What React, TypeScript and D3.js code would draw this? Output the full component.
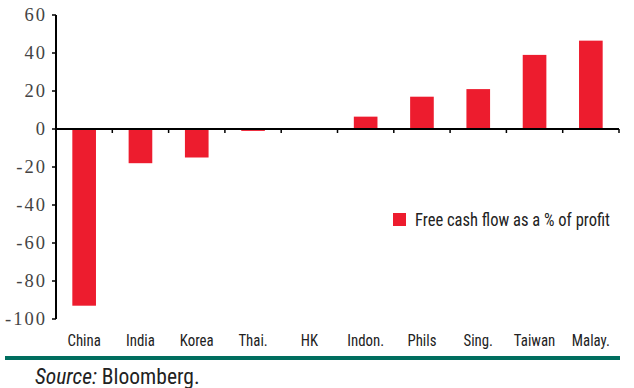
import * as d3 from "d3";

const categories = ["China", "India", "Korea", "Thai.", "HK", "Indon.", "Phils", "Sing.", "Taiwan", "Malay."];
const values = [-93, -18, -15, -1, 0, 6.5, 17, 21, 39, 46.5];
const yTicks = [60, 40, 20, 0, -20, -40, -60, -80, -100];
const legendLabel = "Free cash flow as a % of profit";

const W = 634;
const H = 388;
const BAR = "#ed1c2e";
const SANS = "Roboto Condensed";
const SERIF = "Liberation Serif";

export default function App() {
  const x = d3.scaleBand<string>().domain(categories).range([56, 619]).paddingInner(0.58).paddingOuter(0.29);
  const y = d3.scaleLinear().domain([-100, 60]).range([319, 15]);
  const step = x.step();
  const x0 = 56;

  return (
    <svg width={W} height={H} style={{ position: "absolute", left: 0, top: 0, background: "#fff" }}>
      {/* bars */}
      {categories.map((c, i) => (
        <rect
          key={c}
          x={x(c)}
          width={x.bandwidth()}
          y={y(Math.max(0, values[i]))}
          height={Math.abs(y(values[i]) - y(0))}
          fill={BAR}
        />
      ))}

      {/* y axis */}
      <line x1={x0} x2={x0} y1={y(60)} y2={y(-100)} stroke="#000" strokeWidth={2} />
      {yTicks.map((t) => (
        <g key={t}>
          <line x1={x0 - 4} x2={x0} y1={y(t)} y2={y(t)} stroke="#000" strokeWidth={1.5} />
          <text
            x={47}
            y={y(t) + 6}
            textAnchor="end"
            fontFamily={SERIF}
            fontSize={18.5}
            letterSpacing={2}
            fill="#444"
          >
            {t}
          </text>
        </g>
      ))}

      {/* zero line with category ticks */}
      <line x1={x0} x2={619} y1={y(0)} y2={y(0)} stroke="#000" strokeWidth={2} />
      {categories.map((c, i) => (
        <line key={c} x1={x0 + (i + 1) * step} x2={x0 + (i + 1) * step} y1={y(0)} y2={y(0) + 4} stroke="#000" strokeWidth={1.5} />
      ))}

      {/* category labels */}
      {categories.map((c) => (
        <text
          key={c}
          transform={`translate(${(x(c) ?? 0) + x.bandwidth() / 2},346) scale(0.9,1)`}
          textAnchor="middle"
          fontFamily={SANS}
          fontSize={16.5}
          fill="#222"
        >
          {c}
        </text>
      ))}

      {/* legend */}
      <rect x={393} y={213} width={13} height={13} fill={BAR} />
      <text transform="translate(415,226) scale(0.92,1)" fontFamily={SANS} fontSize={18} fill="#222">
        {legendLabel}
      </text>

      {/* footer rule */}
      <rect x={5} y={356} width={615} height={4} fill="#006e5f" />
      <text x={35} y={384} fontFamily={SANS} fontSize={21.5} fill="#222">
        <tspan fontStyle="italic">Source:</tspan> Bloomberg.
      </text>
    </svg>
  );
}
